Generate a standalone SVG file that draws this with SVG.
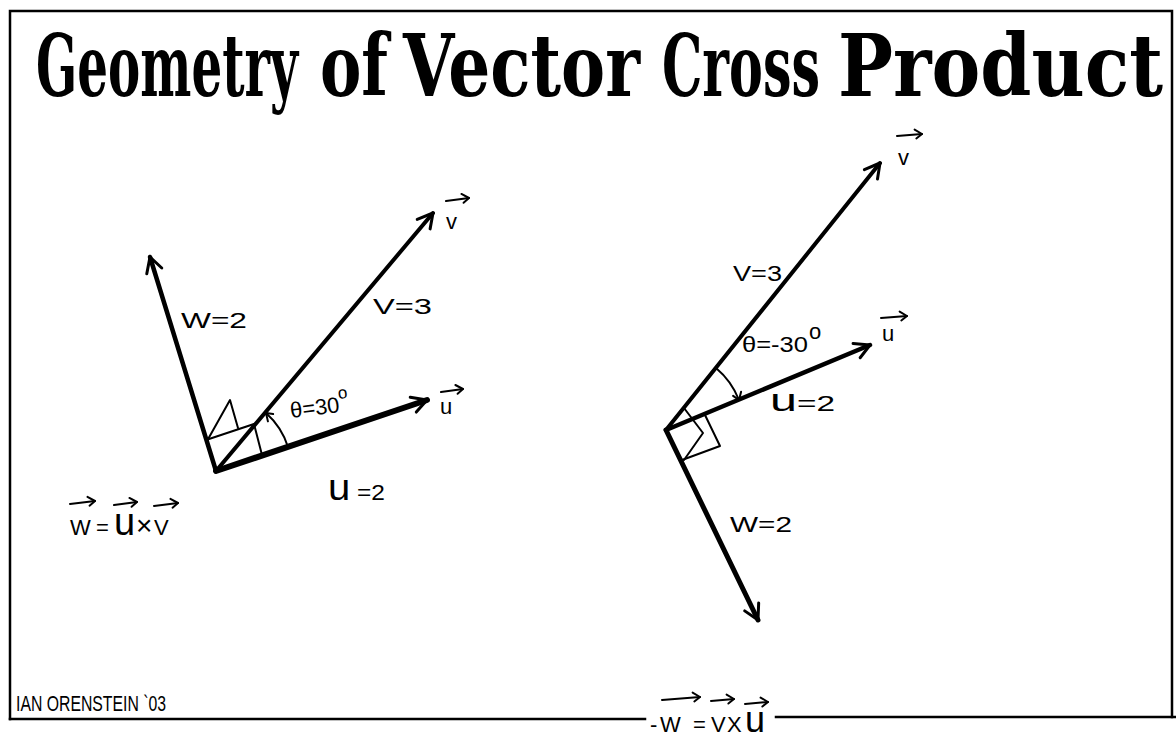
<svg xmlns="http://www.w3.org/2000/svg" width="1176" height="740" viewBox="0 0 1176 740">
<style>
.vec{stroke:#000;fill:none;stroke-linecap:round;marker-end:url(#head)}
.thin{stroke:#000;fill:none;stroke-width:2;stroke-linecap:round;stroke-linejoin:round}
.arc{stroke:#000;fill:none;stroke-width:2;stroke-linecap:round;marker-end:url(#small)}
.over{stroke:#000;fill:none;stroke-width:2;stroke-linecap:round;marker-end:url(#small)}
.frame{stroke:#000;fill:none;stroke-width:2.5;stroke-linecap:square}
.lbl{font-family:"Liberation Sans",Arial,sans-serif;font-size:22px;fill:#000}
.title{font-family:"DejaVu Serif","Liberation Serif",serif;font-weight:bold;font-size:86px;fill:#000}
</style>
<defs>
<marker id="head" viewBox="-20 -12 24 24" markerWidth="24" markerHeight="24" refX="0" refY="0" orient="auto" markerUnits="userSpaceOnUse">
<path d="M-15,-8 L0,0 L-14,8" fill="none" stroke="#000" stroke-width="3" stroke-linecap="round" stroke-linejoin="round"/>
</marker>
<marker id="small" viewBox="-10 -7 12 14" markerWidth="12" markerHeight="14" refX="0" refY="0" orient="auto" markerUnits="userSpaceOnUse">
<path d="M-7,-5 L0,0 L-6,4" fill="none" stroke="#000" stroke-width="2" stroke-linecap="round" stroke-linejoin="round"/>
</marker>
</defs>
<rect width="1176" height="740" fill="#fff"/>

<g id="frame">
<path class="frame" d="M10,719 L10,11 L1172,11 L1172,717"/>
<path class="frame" d="M10,719 L645,719"/>
<path class="frame" d="M776,717 L1176,717"/>
</g>

<g id="title">
<text class="title" y="96"><tspan x="36" textLength="262" lengthAdjust="spacingAndGlyphs">Geometry</tspan> <tspan x="320" textLength="68" lengthAdjust="spacingAndGlyphs">of</tspan> <tspan x="403" textLength="237" lengthAdjust="spacingAndGlyphs">Vector</tspan> <tspan x="662" textLength="158" lengthAdjust="spacingAndGlyphs">Cross</tspan> <tspan x="838" textLength="325" lengthAdjust="spacingAndGlyphs">Product</tspan></text>
</g>

<g id="connectors">
<!-- left diagram vectors -->
<line class="vec" x1="216" y1="471" x2="150" y2="257" stroke-width="4.5"/>
<line class="vec" x1="216" y1="471" x2="433" y2="213" stroke-width="4"/>
<line class="vec" x1="216" y1="471" x2="427" y2="400" stroke-width="6"/>
<path class="thin" d="M206,440 L254,424 L262,455"/>
<path class="thin" d="M207,441 L230,400 L238,428"/>
<path class="arc" d="M288,447 A76,76 0 0 0 266,413"/>
<!-- right diagram vectors -->
<line class="vec" x1="666" y1="430" x2="880" y2="163" stroke-width="4"/>
<line class="vec" x1="666" y1="430" x2="870" y2="345" stroke-width="4.5"/>
<line class="vec" x1="666" y1="430" x2="758" y2="620" stroke-width="5"/>
<path class="thin" d="M705,415 L720,446 L682,460"/>
<path class="thin" d="M684,408 L703,433 L684,460"/>
<path class="arc" d="M716,368 A80,80 0 0 1 739,400"/>
</g>

<g id="left-labels">
<text class="lbl" x="181" y="328" textLength="66" lengthAdjust="spacingAndGlyphs">W=2</text>
<text class="lbl" x="373" y="314" textLength="59" lengthAdjust="spacingAndGlyphs">V=3</text>
<text class="lbl" x="291" y="418" font-size="27" transform="rotate(-7 291 418)">θ=30<tspan dy="-13" font-size="17">o</tspan></text>
<g id="label-u-left">
<text class="lbl" x="440" y="414" font-size="34">u</text>
<line class="over" x1="441" y1="392" x2="463" y2="389"/>
</g>
<g id="label-v-left">
<text class="lbl" x="446" y="229" font-size="34">v</text>
<line class="over" x1="446" y1="201" x2="469" y2="198"/>
</g>
<text class="lbl" x="328" y="500" font-size="28" textLength="57" lengthAdjust="spacingAndGlyphs"><tspan font-size="36">u</tspan> =2</text>
<g id="formula-left">
<text class="lbl" font-size="32" y="535"><tspan x="70">W</tspan><tspan x="96">=</tspan><tspan x="114" font-size="38">u</tspan><tspan x="136" font-size="28">×</tspan><tspan x="154">V</tspan></text>
<line class="over" x1="70" y1="504" x2="95" y2="501"/>
<line class="over" x1="114" y1="505" x2="137" y2="502"/>
<line class="over" x1="154" y1="506" x2="178" y2="503"/>
</g>
</g>

<g id="right-labels">
<text class="lbl" x="733" y="281" textLength="49" lengthAdjust="spacingAndGlyphs">V=3</text>
<text class="lbl" x="742" y="352" font-size="24" textLength="66" lengthAdjust="spacingAndGlyphs">θ=-30</text>
<text class="lbl" x="809" y="339" font-size="17">o</text>
<text class="lbl" x="770" y="411" font-size="26" textLength="65" lengthAdjust="spacingAndGlyphs"><tspan font-size="32">u</tspan>=2</text>
<g id="label-u-right">
<text class="lbl" x="882" y="341" font-size="34">u</text>
<line class="over" x1="881" y1="318" x2="907" y2="316"/>
</g>
<g id="label-v-right">
<text class="lbl" x="898" y="165" font-size="32">v</text>
<line class="over" x1="897" y1="136" x2="922" y2="134"/>
</g>
<text class="lbl" x="730" y="532" textLength="62" lengthAdjust="spacingAndGlyphs">W=2</text>
</g>

<g id="signature">
<text class="lbl" x="16" y="711" font-size="19" textLength="150" lengthAdjust="spacingAndGlyphs">IAN ORENSTEIN `03</text>
</g>

<g id="formula-bottom">
<text class="lbl" font-size="30" y="732"><tspan x="650">-</tspan><tspan x="660">W</tspan><tspan x="693">=</tspan><tspan x="711">V</tspan><tspan x="727">X</tspan><tspan x="745" font-size="36">u</tspan></text>
<line class="over" x1="662" y1="700" x2="700" y2="697"/>
<line class="over" x1="711" y1="701" x2="734" y2="699"/>
<line class="over" x1="745" y1="704" x2="768" y2="702"/>
</g>
</svg>
